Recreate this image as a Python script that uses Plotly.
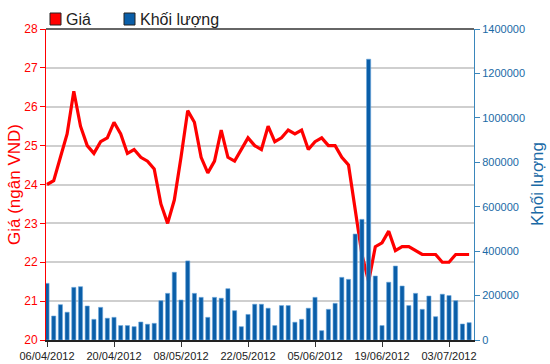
import plotly.graph_objects as go

dates = [
    "06/04/2012", "09/04/2012", "10/04/2012", "11/04/2012", "12/04/2012", "13/04/2012",
    "16/04/2012", "17/04/2012", "18/04/2012", "19/04/2012", "20/04/2012",
    "23/04/2012", "24/04/2012", "25/04/2012", "26/04/2012", "27/04/2012",
    "02/05/2012", "03/05/2012", "04/05/2012", "07/05/2012", "08/05/2012",
    "09/05/2012", "10/05/2012", "11/05/2012", "14/05/2012", "15/05/2012",
    "16/05/2012", "17/05/2012", "18/05/2012", "21/05/2012", "22/05/2012",
    "23/05/2012", "24/05/2012", "25/05/2012", "28/05/2012", "29/05/2012",
    "30/05/2012", "31/05/2012", "01/06/2012", "04/06/2012", "05/06/2012",
    "06/06/2012", "07/06/2012", "08/06/2012", "11/06/2012", "12/06/2012",
    "13/06/2012", "14/06/2012", "15/06/2012", "18/06/2012", "19/06/2012",
    "20/06/2012", "21/06/2012", "22/06/2012", "25/06/2012", "26/06/2012",
    "27/06/2012", "28/06/2012", "29/06/2012", "02/07/2012", "03/07/2012",
    "04/07/2012", "05/07/2012", "06/07/2012",
]

price = [
    24.0, 24.1, 24.7, 25.3, 26.4, 25.5, 25.0, 24.8, 25.1, 25.2,
    25.6, 25.3, 24.8, 24.9, 24.7, 24.6, 24.4, 23.5, 23.0, 23.6,
    24.7, 25.9, 25.6, 24.7, 24.3, 24.6, 25.4, 24.7, 24.6, 24.9,
    25.2, 25.0, 24.9, 25.5, 25.1, 25.2, 25.4, 25.3, 25.4, 24.9,
    25.1, 25.2, 25.0, 25.0, 24.7, 24.5, 23.3, 22.2, 21.5, 22.4,
    22.5, 22.8, 22.3, 22.4, 22.4, 22.3, 22.2, 22.2, 22.2, 22.0,
    22.0, 22.2, 22.2, 22.2,
]

volume = [
    255000, 108000, 159000, 125000, 237000, 240000, 153000, 93000, 147000, 98000,
    102000, 65000, 65000, 60000, 81000, 71000, 75000, 177000, 210000, 305000,
    180000, 356000, 210000, 192000, 102000, 192000, 188000, 231000, 132000, 60000,
    115000, 161000, 161000, 143000, 65000, 155000, 155000, 80000, 93000, 143000,
    192000, 42000, 138000, 165000, 282000, 273000, 477000, 543000, 1264000, 288000,
    65000, 260000, 333000, 243000, 155000, 210000, 138000, 198000, 105000, 206000,
    200000, 177000, 72000, 78000,
]

tick_labels = ["06/04/2012", "20/04/2012", "08/05/2012", "22/05/2012",
               "05/06/2012", "19/06/2012", "03/07/2012"]

legend_names = ["Giá", "Khối lượng"]

RED = "#ff0000"
BLUE = "#1a6aa6"
BAR = "#0a5ea8"

fig = go.Figure()
fig.add_trace(go.Bar(
    x=dates, y=volume, name=legend_names[1], yaxis="y2",
    marker=dict(color=BAR, line=dict(color="#6aa6dc", width=0.6)),
    width=0.62,
))
fig.add_trace(go.Scatter(
    x=dates, y=price, name=legend_names[0], mode="lines", yaxis="y",
    line=dict(color=RED, width=3.2),
))

fig.update_layout(
    width=550, height=364,
    margin=dict(l=46, r=76, t=29, b=24, autoexpand=False),
    paper_bgcolor="white", plot_bgcolor="white",
    font=dict(family="Liberation Sans, Arial, sans-serif", size=11, color="#333333"),
    showlegend=False,
    xaxis=dict(
        type="category", range=[-0.15, 63.73], automargin=False,
        tickmode="array", tickvals=tick_labels, ticktext=tick_labels,
        ticks="outside", ticklen=5, tickcolor="#333333",
        showgrid=False, showline=True, linecolor="#222222", linewidth=1.5,
        tickfont=dict(size=11, color="#222222"),
    ),
    yaxis=dict(
        range=[20, 28], dtick=1, side="left", automargin=False,
        showgrid=True, gridcolor="#cfcfcf", gridwidth=1.5,
        showline=True, linecolor=RED, linewidth=1,
        ticks="outside", ticklen=5, tickcolor=RED,
        tickfont=dict(size=12, color=RED),
        zeroline=False,
    ),
    yaxis2=dict(
        range=[0, 1400000], dtick=200000, side="right", overlaying="y",
        automargin=False,
        showgrid=False, showline=True, linecolor="#3a86bb", linewidth=1,
        ticks="outside", ticklen=5, tickcolor="#3a86bb",
        tickfont=dict(size=11, color=BLUE),
        tickformat="d",
        zeroline=False,
    ),
)

# axis titles
fig.add_annotation(text="Giá (ngân VND)", xref="paper", yref="paper",
                   x=-46 / 428, y=0.5, xanchor="left", yanchor="middle",
                   textangle=-90, showarrow=False,
                   font=dict(size=17, color=RED), xshift=3)
fig.add_annotation(text=legend_names[1], xref="paper", yref="paper",
                   x=1, y=0.5, xanchor="left", yanchor="middle",
                   textangle=-90, showarrow=False,
                   font=dict(size=17, color=BLUE), xshift=52)

# legend (swatches + labels)
for name, col, x0 in [(legend_names[0], RED, 50), (legend_names[1], BAR, 124)]:
    fig.add_shape(type="rect", xref="paper", yref="paper",
                  x0=(x0 - 46) / 428, x1=(x0 + 11 - 46) / 428,
                  y0=(340 - 25) / 311, y1=(340 - 13) / 311,
                  line=dict(color="#222222", width=1), fillcolor=col)
    fig.add_annotation(text=name, xref="paper", yref="paper",
                       x=(x0 + 14 - 46) / 428, y=(340 - 19) / 311,
                       xanchor="left", yanchor="middle", showarrow=False,
                       font=dict(size=16, color="#222222"))

# dark top border of the plot area
fig.add_shape(type="line", xref="paper", yref="paper", x0=0, x1=1, y0=1, y1=1,
              line=dict(color="#333333", width=1.5))

fig.write_html("out.html", config={"displayModeBar": False},
               post_script="document.body.style.margin='0';document.body.style.overflow='hidden';")
